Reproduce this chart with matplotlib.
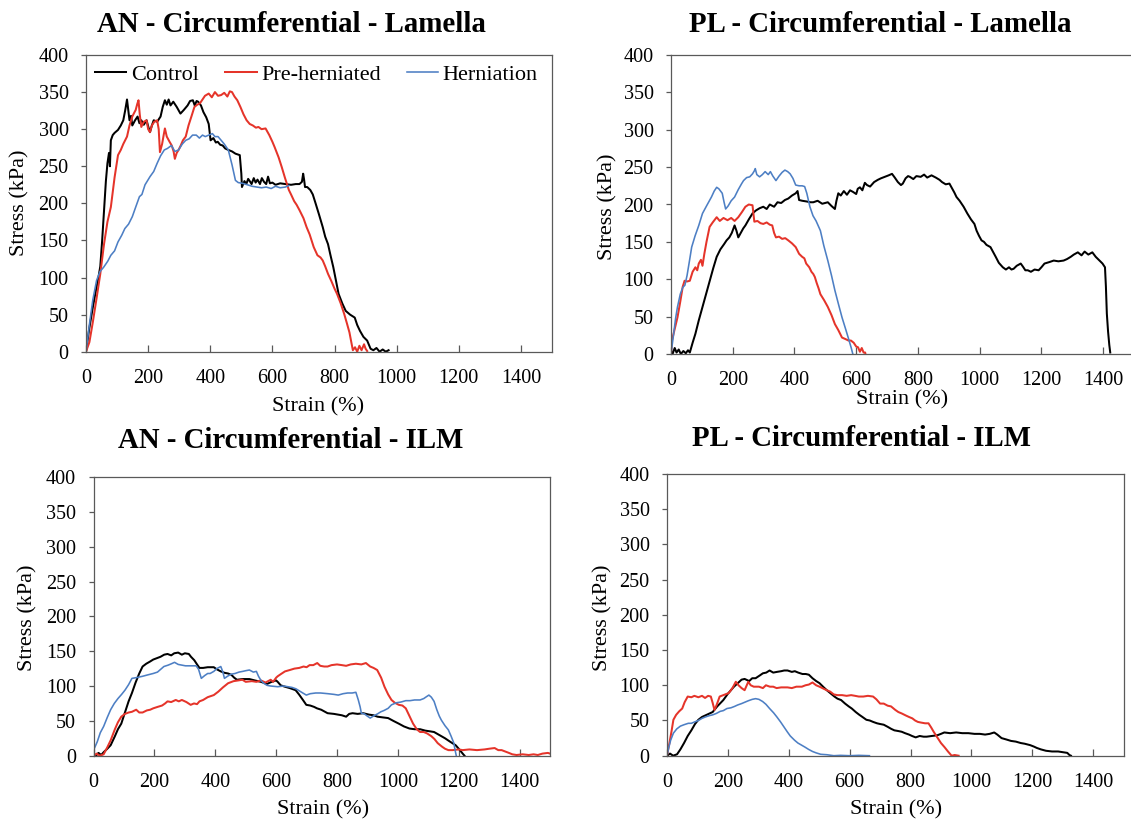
import matplotlib
matplotlib.use("Agg")
import matplotlib.pyplot as plt

plt.rcParams['font.family'] = ['Liberation Serif', 'DejaVu Serif']

# ---------------- data: (strain %, stress kPa) ----------------
an_lam_control = [(0,0),(10,30),(22,60),(34,87),(40,100),(46,115),(52,150),(58,190),(64,230),(69,254),(74,268),(77,250),(80,285),(86,292),(92,295),(103,299),(112,305),(120,312),(126,325),(132,340),(136,326),(140,312),(145,318),(149,305),(158,312),(166,317),(172,308),(178,312),(186,306),(195,312),(200,304),(206,296),(212,305),(218,312),(229,310),(240,317),(247,330),(254,339),(260,333),(266,340),(272,332),(281,337),(292,330),(304,321),(315,326),(327,332),(335,338),(344,339),(350,332),(356,338),(361,337),(370,332),(378,323),(387,316),(395,307),(401,285),(410,288),(418,282),(424,283),(432,279),(440,278),(448,274),(458,272),(470,270),(481,267),(495,265),(500,240),(502,222),(510,230),(516,226),(522,233),(527,230),(533,226),(540,234),(546,228),(552,232),(560,226),(566,234),(573,229),(580,226),(586,236),(592,227),(600,228),(610,225),(625,227),(642,226),(660,225),(675,226),(687,226),(695,229),(699,240),(702,232),(705,222),(712,222),(722,218),(730,212),(739,200),(750,185),(762,168),(770,155),(779,145),(787,130),(796,114),(805,95),(813,78),(825,65),(836,55),(850,50),(865,46),(873,36),(882,28),(893,20),(905,15),(912,8),(916,4),(925,2),(935,5),(945,0),(955,3),(965,0),(974,2)]
an_lam_pre = [(0,0),(11,13),(22,40),(34,72),(46,105),(58,145),(69,175),(80,195),(92,235),(103,265),(112,272),(120,280),(132,290),(140,305),(149,317),(155,322),(160,326),(165,334),(169,339),(173,320),(178,303),(186,310),(195,312),(200,300),(206,296),(212,305),(220,310),(229,312),(234,300),(238,269),(245,280),(250,292),(254,301),(260,290),(269,283),(276,278),(282,270),(286,260),(292,268),(298,272),(305,278),(312,285),(321,290),(330,305),(340,318),(349,330),(358,333),(367,335),(375,340),(383,345),(395,348),(405,343),(415,350),(425,345),(435,346),(445,349),(455,344),(463,351),(470,350),(478,344),(487,339),(497,330),(507,320),(517,312),(527,307),(537,305),(547,302),(555,303),(565,300),(578,301),(590,292),(600,283),(607,276),(620,262),(630,249),(640,235),(653,218),(660,212),(670,203),(678,198),(687,191),(700,180),(710,168),(720,158),(733,141),(745,130),(755,127),(762,123),(770,115),(779,105),(790,95),(800,85),(808,78),(820,65),(831,51),(840,38),(848,26),(853,15),(859,2),(866,6),(873,0),(880,8),(887,2),(895,10),(900,4),(905,1)]
an_lam_hern = [(0,0),(12,40),(22,70),(34,96),(45,108),(57,114),(70,122),(80,130),(92,136),(103,148),(115,157),(125,166),(137,172),(149,182),(160,195),(172,209),(180,212),(190,225),(206,236),(218,243),(229,254),(240,264),(252,272),(262,274),(275,278),(286,270),(298,272),(310,280),(321,285),(332,287),(343,292),(355,292),(365,288),(375,292),(384,290),(395,292),(407,294),(415,290),(425,290),(435,285),(445,280),(458,272),(470,252),(481,231),(490,228),(504,227),(520,225),(535,223),(550,222),(565,221),(580,222),(596,220),(610,223),(625,221),(642,222),(653,224)]

pl_lam_control = [(0,5),(5,0),(12,8),(18,2),(25,6),(32,0),(40,4),(48,1),(55,5),(61,2),(70,15),(79,27),(90,45),(102,63),(113,80),(125,98),(137,115),(148,130),(160,140),(172,147),(180,152),(189,156),(197,162),(206,172),(212,165),(218,156),(226,162),(234,168),(241,172),(252,180),(264,188),(275,192),(287,195),(299,197),(310,194),(320,200),(334,197),(345,203),(357,202),(369,206),(380,208),(392,212),(404,215),(410,218),(415,206),(425,205),(440,204),(452,203),(461,203),(475,205),(490,201),(508,203),(520,198),(531,194),(536,205),(542,215),(550,212),(560,218),(570,213),(580,219),(589,217),(600,214),(605,221),(612,223),(620,219),(628,229),(635,226),(645,224),(658,230),(670,233),(680,235),(693,237),(705,239),(716,241),(725,236),(735,230),(745,226),(751,228),(760,235),(768,238),(774,237),(785,234),(795,238),(809,237),(820,240),(830,236),(844,239),(858,236),(870,233),(878,230),(890,227),(902,228),(910,222),(918,216),(925,210),(935,205),(948,197),(960,188),(972,180),(983,174),(990,165),(998,158),(1006,152),(1014,150),(1022,146),(1035,143),(1043,137),(1052,130),(1062,122),(1075,116),(1085,113),(1095,116),(1103,113),(1110,114),(1120,118),(1133,121),(1140,117),(1148,112),(1156,112),(1166,110),(1178,113),(1191,112),(1200,116),(1210,121),(1226,123),(1240,125),(1255,124),(1272,125),(1283,127),(1295,130),(1305,133),(1318,136),(1330,132),(1340,137),(1352,133),(1365,136),(1376,130),(1388,125),(1398,121),(1406,116),(1409,90),(1412,54),(1416,30),(1420,12),(1423,2)]
pl_lam_pre = [(0,0),(3,18),(10,30),(21,49),(30,70),(38,90),(44,98),(52,97),(61,98),(70,110),(79,116),(85,112),(90,121),(97,126),(102,118),(108,134),(115,150),(125,170),(135,176),(148,183),(158,178),(170,182),(183,179),(195,182),(206,178),(218,183),(230,190),(241,197),(252,200),(264,199),(270,177),(280,178),(290,175),(299,174),(310,176),(320,173),(328,172),(334,162),(340,156),(350,157),(360,154),(370,155),(380,152),(392,148),(404,143),(415,134),(425,130),(432,128),(438,121),(448,116),(455,110),(461,107),(466,103),(472,95),(478,88),(484,80),(496,72),(508,63),(520,52),(531,40),(542,32),(554,22),(565,20),(575,18),(583,18),(592,15),(600,10),(606,9),(612,3),(618,8),(624,2),(629,2),(630,0)]
pl_lam_hern = [(0,0),(8,25),(15,48),(21,63),(30,80),(38,89),(45,92),(52,105),(60,125),(67,143),(78,158),(90,172),(102,188),(115,198),(131,210),(140,218),(148,223),(155,221),(166,215),(172,203),(177,194),(185,198),(195,205),(206,210),(218,220),(229,228),(235,232),(245,236),(255,237),(264,241),(270,245),(273,248),(278,240),(287,237),(296,240),(305,244),(315,240),(322,244),(330,238),(340,232),(350,238),(360,243),(369,246),(378,244),(386,241),(395,235),(404,226),(415,225),(425,225),(433,224),(440,215),(450,197),(460,185),(470,178),(484,165),(495,145),(508,125),(520,105),(531,85),(543,66),(554,49),(566,33),(577,18),(584,8),(589,0)]

an_ilm_control = [(0,2),(8,0),(16,4),(25,1),(33,5),(45,10),(56,15),(70,28),(80,38),(91,46),(103,62),(115,78),(126,90),(138,105),(150,118),(161,128),(173,132),(185,135),(196,138),(208,140),(220,142),(232,145),(243,146),(255,144),(265,147),(278,148),(290,145),(300,147),(313,146),(320,142),(331,137),(340,131),(348,126),(360,126),(375,127),(395,127),(405,124),(418,121),(430,119),(442,118),(453,116),(462,112),(471,109),(490,110),(512,110),(530,108),(550,106),(570,103),(585,106),(600,108),(605,106),(615,101),(629,99),(645,97),(664,94),(675,88),(688,80),(699,73),(712,72),(725,70),(734,68),(748,66),(769,61),(790,60),(816,58),(830,56),(840,60),(851,61),(868,60),(886,61),(905,59),(920,58),(933,56),(950,55),(968,54),(985,50),(1003,46),(1020,42),(1038,39),(1055,38),(1073,38),(1090,36),(1105,35),(1119,34),(1135,30),(1155,25),(1172,20),(1190,15),(1200,10),(1213,3),(1219,0)]
an_ilm_pre = [(0,0),(10,3),(20,0),(33,2),(45,12),(56,22),(70,38),(80,48),(91,56),(103,60),(115,62),(126,63),(140,66),(150,62),(161,62),(175,65),(186,66),(196,68),(210,70),(225,72),(235,75),(243,78),(255,77),(270,80),(280,78),(290,80),(305,77),(319,73),(330,75),(340,74),(348,78),(360,80),(375,84),(395,87),(410,92),(425,98),(442,104),(460,107),(475,108),(489,109),(500,106),(520,107),(535,106),(550,108),(565,105),(582,109),(590,106),(600,112),(605,114),(615,117),(629,121),(645,123),(660,125),(676,126),(690,128),(700,127),(710,130),(722,130),(735,133),(745,129),(758,128),(769,128),(782,130),(800,131),(816,130),(830,129),(845,131),(862,132),(880,131),(895,133),(909,128),(920,126),(932,123),(945,112),(956,99),(968,88),(979,80),(990,76),(1003,73),(1015,72),(1026,68),(1038,57),(1050,46),(1062,38),(1073,34),(1085,34),(1096,32),(1110,28),(1120,24),(1131,18),(1145,13),(1155,10),(1166,8),(1180,8),(1200,9),(1213,8),(1235,9),(1260,8),(1285,9),(1300,10),(1318,11),(1330,8),(1341,8),(1353,6),(1365,4),(1376,2),(1390,1),(1410,2),(1430,1),(1446,2),(1460,1),(1475,3),(1493,4),(1500,3)]
an_ilm_hern = [(0,8),(12,20),(22,33),(33,42),(45,55),(56,66),(68,75),(80,82),(92,88),(103,94),(115,102),(126,111),(140,112),(161,114),(178,116),(196,118),(210,120),(231,128),(245,130),(256,132),(266,134),(278,131),(290,130),(302,129),(320,129),(337,129),(345,124),(354,111),(365,115),(375,118),(383,118),(395,121),(405,125),(418,128),(425,120),(430,111),(440,114),(452,117),(465,118),(478,120),(490,121),(500,122),(512,123),(525,120),(535,121),(542,114),(550,108),(559,104),(570,101),(582,100),(605,99),(625,100),(652,98),(665,96),(680,92),(699,87),(712,89),(730,90),(746,90),(770,89),(790,88),(804,87),(820,89),(835,90),(850,90),(862,91),(870,80),(876,70),(880,61),(890,60),(899,57),(909,54),(920,57),(933,60),(944,63),(955,65),(968,68),(979,73),(995,76),(1010,77),(1026,79),(1040,79),(1055,80),(1073,80),(1085,82),(1095,85),(1102,87),(1110,84),(1119,78),(1128,66),(1136,57),(1143,51),(1155,43),(1166,37),(1175,28),(1184,18),(1188,8),(1192,0)]

pl_ilm_control = [(0,0),(10,3),(20,0),(33,2),(44,9),(56,18),(68,28),(80,36),(92,45),(103,51),(115,55),(130,58),(150,62),(165,70),(185,79),(200,88),(220,98),(235,104),(245,108),(255,109),(270,106),(280,110),(291,110),(305,114),(315,117),(326,118),(337,121),(349,118),(361,119),(375,120),(385,121),(396,121),(410,119),(420,120),(431,118),(445,116),(456,116),(466,115),(478,110),(490,106),(501,103),(515,97),(525,93),(536,89),(550,84),(560,81),(572,79),(585,74),(597,70),(607,67),(620,62),(632,58),(642,55),(655,51),(666,50),(677,48),(690,46),(700,45),(712,44),(725,41),(737,38),(747,36),(760,35),(771,34),(782,32),(795,30),(805,28),(817,26),(830,28),(843,27),(853,27),(870,28),(888,29),(900,31),(911,33),(930,32),(950,33),(970,32),(990,32),(1010,31),(1028,31),(1045,30),(1060,31),(1075,33),(1085,30),(1099,25),(1115,23),(1130,21),(1146,20),(1162,18),(1175,17),(1193,15),(1205,13),(1215,11),(1228,9),(1245,7),(1265,6),(1285,6),(1300,5),(1315,4),(1322,1),(1327,0)]
pl_ilm_pre = [(0,0),(8,18),(15,35),(21,51),(30,58),(40,63),(50,67),(58,76),(68,84),(80,83),(90,85),(103,83),(115,85),(125,82),(135,85),(144,84),(150,75),(156,65),(163,72),(173,84),(185,86),(203,89),(215,96),(226,105),(235,100),(245,96),(255,93),(262,100),(267,105),(275,100),(285,98),(302,98),(315,96),(325,100),(338,98),(349,98),(360,96),(375,97),(396,97),(410,96),(425,98),(443,98),(455,100),(466,101),(478,104),(490,100),(501,98),(515,95),(525,93),(536,91),(548,87),(560,86),(575,86),(590,85),(605,86),(618,85),(630,84),(645,84),(660,85),(677,84),(688,80),(700,74),(712,74),(725,71),(736,70),(750,65),(760,62),(771,60),(785,57),(795,55),(806,53),(815,50),(824,48),(835,47),(848,46),(859,46),(868,40),(876,34),(888,26),(900,18),(912,12),(923,6),(935,0),(945,1),(958,0)]
pl_ilm_hern = [(0,0),(6,12),(12,22),(21,32),(32,38),(44,42),(56,44),(70,46),(80,46),(91,48),(103,50),(115,53),(126,55),(140,57),(150,58),(162,60),(175,63),(185,64),(197,67),(210,68),(222,70),(232,72),(245,74),(256,76),(267,78),(280,80),(291,81),(302,80),(314,77),(325,73),(337,67),(350,61),(361,55),(373,48),(384,41),(395,34),(405,28),(419,22),(430,18),(442,15),(454,12),(465,9),(478,6),(490,4),(505,2),(525,1.4),(548,0),(570,0.5),(600,0),(630,0.5),(665,0)]

series_names = ["Control", "Pre-herniated", "Herniation"]
x_ticks = [0, 200, 400, 600, 800, 1000, 1200, 1400]
y_ticks = [0, 50, 100, 150, 200, 250, 300, 350, 400]

colors = ["#000000", "#e5342a", "#4d7fc4"]
widths = [1.45, 1.45, 1.15]

W, H = 1131, 822
fig = plt.figure(figsize=(W / 100, H / 100), dpi=100)


def px_axes(left, right, top, bottom):
    return fig.add_axes([left / W, 1 - bottom / H, (right - left) / W, (bottom - top) / H])


panels = [
    dict(box=(86, 552, 55, 351.7), title="AN - Circumferential - Lamella", tpos=(291, 25),
         xl=(318, 407), yl=(20, 203), data=[an_lam_control, an_lam_pre, an_lam_hern], legend=True),
    dict(box=(671, 1134, 55, 354), title="PL - Circumferential - Lamella", tpos=(880, 25),
         xl=(902, 400), yl=(608, 207), data=[pl_lam_control, pl_lam_pre, pl_lam_hern], legend=False),
    dict(box=(93.6, 550, 477, 755.7), title="AN - Circumferential - ILM", tpos=(291, 440),
         xl=(323, 810), yl=(28, 618), data=[an_ilm_control, an_ilm_pre, an_ilm_hern], legend=False),
    dict(box=(667, 1123.6, 474, 755.7), title="PL - Circumferential - ILM", tpos=(861, 438),
         xl=(896, 810), yl=(603, 618), data=[pl_ilm_control, pl_ilm_pre, pl_ilm_hern], legend=False),
]

for p in panels:
    ax = px_axes(*p["box"])
    for name, col, lw, pts in zip(series_names, colors, widths, p["data"]):
        xs = [q[0] for q in pts]
        ys = [q[1] for q in pts]
        ax.plot(xs, ys, color=col, lw=lw, label=name)
    ax.set_xlim(0, 1500)
    ax.set_ylim(0, 400)
    ax.set_xticks(x_ticks)
    ax.set_yticks(y_ticks)
    ax.tick_params(axis="x", direction="in", length=5, width=0.9, pad=12.5,
                   labelsize=14.5, color="#595959")
    ax.tick_params(axis="y", direction="out", length=3.5, width=0.9, pad=9,
                   labelsize=14.5, color="#595959")
    for s in ax.spines.values():
        s.set_color("#595959")
        s.set_linewidth(0.9)
    fig.text(p["tpos"][0] / W, 1 - p["tpos"][1] / H, p["title"], ha="center", va="center",
             fontsize=20.8, fontweight="bold")
    fig.text(p["xl"][0] / W, 1 - p["xl"][1] / H, "Strain (%)", ha="center", va="center",
             fontsize=16)
    fig.text(p["yl"][0] / W, 1 - p["yl"][1] / H, "Stress (kPa)", ha="center", va="center",
             fontsize=16, rotation=90)
    if p["legend"]:
        ax.legend(loc="center left", bbox_to_anchor=(0.02, 0.933), ncol=3, frameon=False,
                  fontsize=16, handlelength=1.4, handletextpad=0.2, columnspacing=1.2,
                  borderpad=0, borderaxespad=0)

fig.savefig("out.png", dpi=100)
